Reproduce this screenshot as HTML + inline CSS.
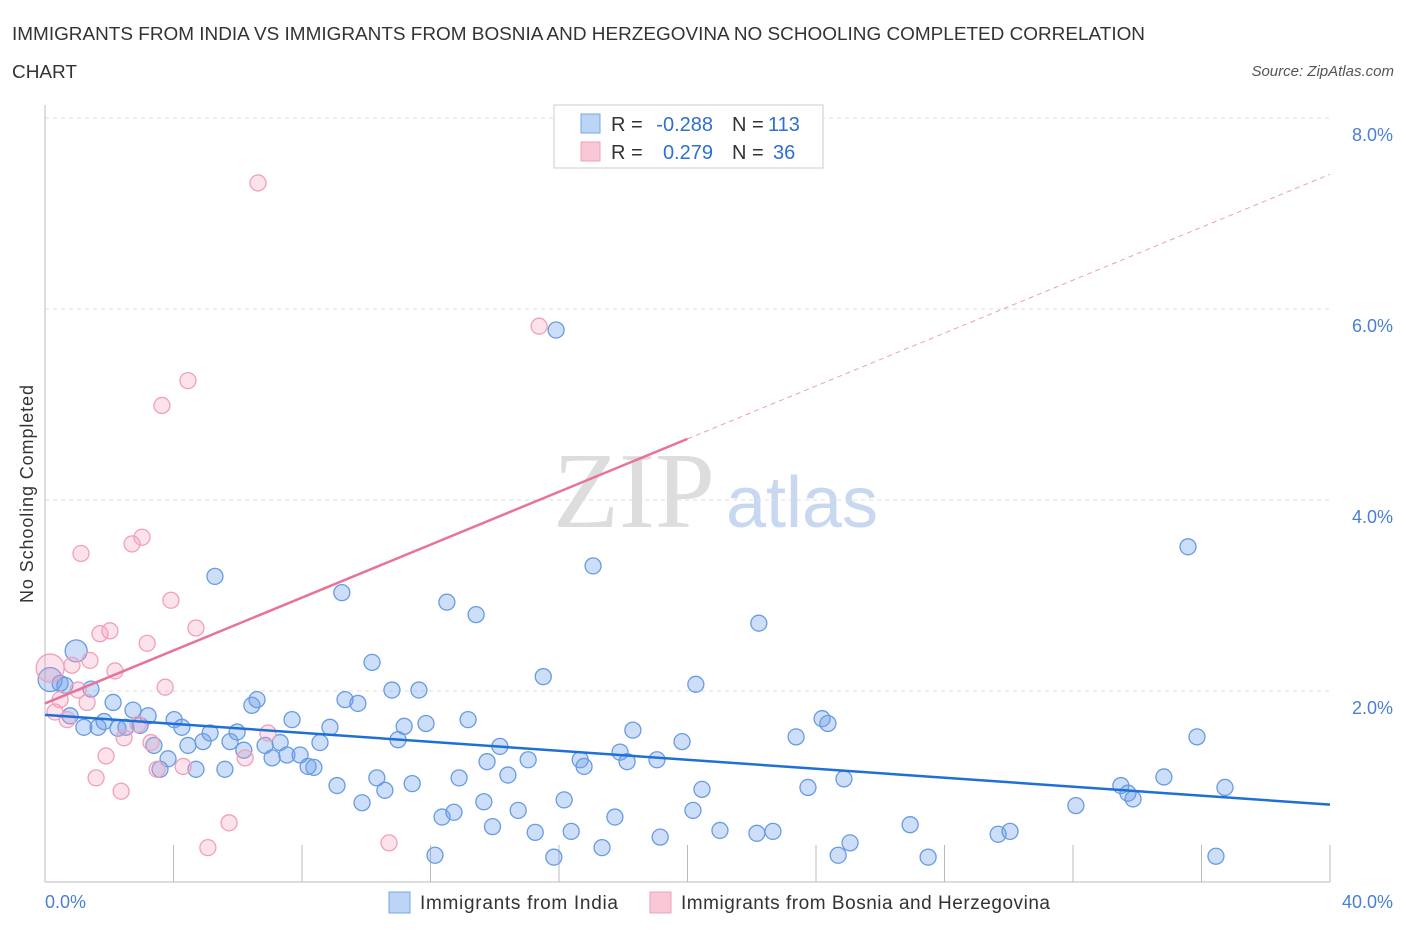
<!DOCTYPE html>
<html><head><meta charset="utf-8"><style>
body{margin:0;background:#fff;font-family:"Liberation Sans",sans-serif;}
svg text{font-family:"Liberation Sans",sans-serif;}
</style></head><body>
<svg id="c" width="1406" height="930" xmlns="http://www.w3.org/2000/svg">
<text x="12" y="40" font-size="18" fill="#333" textLength="1133" lengthAdjust="spacingAndGlyphs">IMMIGRANTS FROM INDIA VS IMMIGRANTS FROM BOSNIA AND HERZEGOVINA NO SCHOOLING COMPLETED CORRELATION</text>
<text x="12" y="78" font-size="18" fill="#333" textLength="65" lengthAdjust="spacingAndGlyphs">CHART</text>
<text x="1394" y="76" font-size="15" fill="#555" font-style="italic" text-anchor="end">Source: ZipAtlas.com</text>
<text x="634" y="527" font-size="108" fill="#ddd" text-anchor="middle" style="font-family:'Liberation Serif',serif">ZIP</text>
<text x="802" y="527" font-size="72" fill="#c8d8f0" text-anchor="middle">atlas</text>
<text transform="translate(33,494) rotate(-90)" font-size="18" fill="#333" text-anchor="middle" textLength="218">No Schooling Completed</text>
<g id="grid"></g><g id="marks"></g>
<rect x="554" y="105" width="269" height="63" fill="#fff" stroke="#ccc"/>
<rect x="581" y="114" width="19" height="19" fill="#bcd4f5" stroke="#7aa6e6"/>
<rect x="581" y="142" width="19" height="19" fill="#f9c8d6" stroke="#f0a0bb"/>
<g font-size="20">
<text x="611" y="131" fill="#333">R =</text>
<text x="713" y="131" fill="#2f6fd0" text-anchor="end">-0.288</text>
<text x="732" y="131" fill="#333">N =</text>
<text x="768" y="131" fill="#2f6fd0">113</text>
</g>
<g font-size="20">
<text x="611" y="159" fill="#333">R =</text>
<text x="713" y="159" fill="#2f6fd0" text-anchor="end">0.279</text>
<text x="732" y="159" fill="#333">N =</text>
<text x="773" y="159" fill="#2f6fd0">36</text>
</g>
<rect x="389" y="892" width="21" height="21" fill="#bcd4f5" stroke="#7aa6e6"/>
<text x="420" y="909" font-size="19" fill="#333" textLength="198">Immigrants from India</text>
<rect x="650" y="892" width="21" height="21" fill="#f9c8d6" stroke="#f0a0bb"/>
<text x="681" y="909" font-size="19" fill="#333" textLength="369">Immigrants from Bosnia and Herzegovina</text>
<text x="45" y="908" font-size="18" fill="#4a7fd4">0.0%</text>
<text x="1393" y="908" font-size="18" fill="#4a7fd4" text-anchor="end">40.0%</text>
</svg>
<script>
const yTicks=[2,4,6,8];
const yTickLabels=["2.0%","4.0%","6.0%","8.0%"];
const xTicks=[0,4,8,12,16,20,24,28,32,36,40];
const indiaX=[0.16,0.47,0.62,0.97,0.78,1.21,1.43,1.65,1.84,2.12,2.27,2.52,2.74,2.96,3.21,3.39,3.58,3.83,4.02,4.26,4.45,4.70,4.92,5.14,5.29,5.60,5.76,5.98,6.19,6.44,6.60,6.85,7.07,7.32,7.53,7.69,7.94,8.19,8.37,8.56,8.87,9.09,9.24,9.34,9.74,9.87,10.18,10.33,10.58,10.80,10.99,11.18,11.43,11.64,11.86,12.14,12.36,12.51,12.73,12.89,13.17,13.42,13.66,13.76,13.93,14.16,14.41,14.73,15.04,15.26,15.51,15.84,15.91,16.16,16.38,16.66,16.78,17.06,17.34,17.74,17.90,18.12,18.30,19.05,19.15,19.83,20.17,20.26,20.45,21.01,22.16,22.22,22.66,23.38,23.75,24.19,24.37,24.69,24.87,25.06,26.93,27.49,29.67,30.04,32.09,33.49,33.71,33.87,34.83,35.58,35.86,36.45,36.73];
const indiaY=[2.12,2.08,2.06,2.42,1.74,1.62,2.02,1.62,1.68,1.88,1.61,1.62,1.80,1.64,1.74,1.43,1.18,1.29,1.70,1.62,1.43,1.18,1.47,1.56,3.20,1.18,1.47,1.57,1.38,1.85,1.91,1.43,1.30,1.46,1.33,1.70,1.33,1.21,1.20,1.46,1.62,1.01,3.03,1.91,1.87,0.83,2.30,1.09,0.96,2.01,1.49,1.63,1.03,2.01,1.66,0.28,0.68,2.93,0.73,1.09,1.70,2.80,0.84,1.26,0.58,1.42,1.12,0.75,1.28,0.52,2.15,0.26,5.78,0.86,0.53,1.28,1.21,3.31,0.36,0.68,1.36,1.26,1.59,1.28,0.47,1.47,0.75,2.07,0.97,0.54,0.51,2.71,0.53,1.52,0.99,1.71,1.66,0.28,1.08,0.41,0.60,0.26,0.50,0.53,0.80,1.01,0.93,0.87,1.10,3.51,1.52,0.27,0.99];
const bosniaX=[0.16,0.31,0.47,0.69,0.84,1.03,1.12,1.31,1.40,1.59,1.71,1.90,2.02,2.18,2.37,2.46,2.71,2.90,3.02,3.18,3.30,3.49,3.64,3.74,3.92,4.30,4.45,4.70,5.07,5.73,6.23,6.63,6.94,10.71,15.38];
const bosniaY=[2.24,1.78,1.91,1.70,2.27,2.01,3.44,1.88,2.32,1.09,2.60,1.32,2.63,2.21,0.95,1.51,3.54,1.65,3.61,2.50,1.46,1.18,4.99,2.04,2.95,1.21,5.25,2.66,0.36,0.62,1.30,7.32,1.56,0.41,5.82];
const indiaTrend=[1.75,0.81];
const bosniaTrend=[1.87,7.41];
const X=v=>45+v*(1285/40), Y=v=>882-v*95.5;
const NS="http://www.w3.org/2000/svg";
function mk(t,a,p){const e=document.createElementNS(NS,t);for(const k in a)e.setAttribute(k,a[k]);p.appendChild(e);return e;}
const g=document.getElementById('grid'), m=document.getElementById('marks');
yTicks.forEach((v,i)=>{
 const l=mk('line',{x1:45,x2:1330,y1:Y(v),y2:Y(v),stroke:'#ddd','stroke-dasharray':'4,4'},g);
 
 
 const t=mk('text',{x:1393,y:Y(v)+23,'font-size':18,fill:'#4a7fd4','text-anchor':'end'},g);t.textContent=yTickLabels[i];
 
 
});
const ax=mk('line',{x1:45,x2:45,y1:105,y2:882,stroke:'#bbb'},g);


const bx=mk('line',{x1:45,x2:1330,y1:882,y2:882,stroke:'#bbb'},g);


xTicks.forEach(v=>{const t=mk('line',{x1:X(v),x2:X(v),y1:845,y2:882,stroke:'#bbb'},g);
 
 });
indiaX.forEach((v,i)=>{const c=mk('circle',{cx:X(v),cy:Y(indiaY[i]),r:i<1?12:(i==3?11:8),fill:'rgba(110,160,235,0.35)',stroke:'#6a9be0','stroke-width':1.3},m);
 
 });
bosniaX.forEach((v,i)=>{const c=mk('circle',{cx:X(v),cy:Y(bosniaY[i]),r:i<1?14:8,fill:'rgba(245,160,190,0.3)',stroke:'#f0a0bb','stroke-width':1.3},m);
 
 });
const l1=mk('line',{x1:X(0),y1:Y(indiaTrend[0]),x2:X(40),y2:Y(indiaTrend[1]),stroke:'#1f6fd8','stroke-width':2.5},m);


const mid=bosniaTrend[0]+(bosniaTrend[1]-bosniaTrend[0])/2;
const l2=mk('line',{x1:X(0),y1:Y(bosniaTrend[0]),x2:X(20),y2:Y(mid),stroke:'#e8739a','stroke-width':2.5},m);


const l3=mk('line',{x1:X(20),y1:Y(mid),x2:X(40),y2:Y(bosniaTrend[1]),stroke:'#eaa0b8','stroke-width':1,'stroke-dasharray':'5,4'},m);


</script>
</body></html>
